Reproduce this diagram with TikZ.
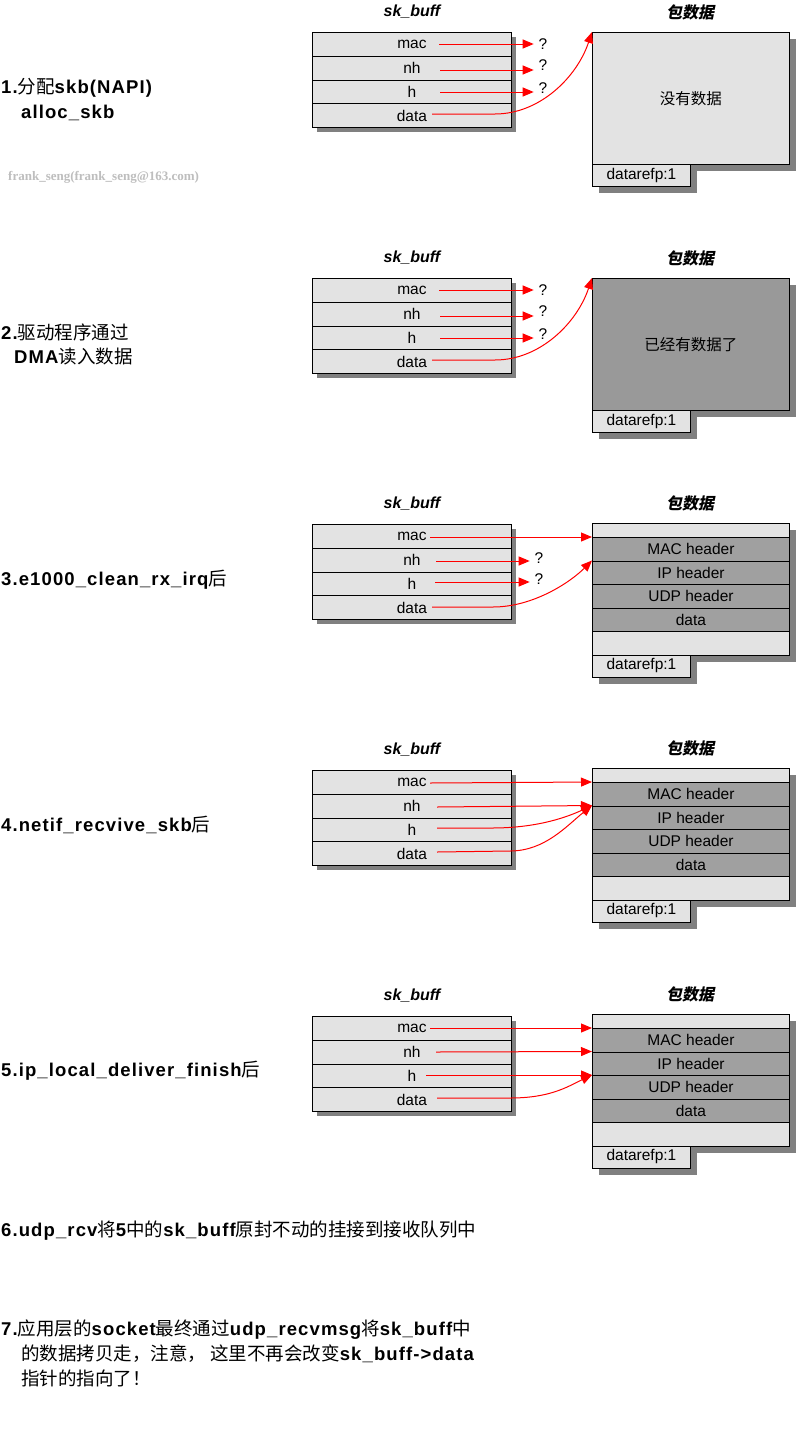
\documentclass[tikz,border=0pt]{standalone}
\usepackage{fontspec}
\setmainfont{Liberation Sans}
\newfontfamily\zh{Noto Sans CJK SC}
\newfontfamily\zhit[FakeSlant=0.2]{Noto Sans CJK SC}
\newfontfamily\wmfont{Liberation Serif}
\newfontfamily\lbfont[LetterSpace=6]{Liberation Sans}
\usetikzlibrary{arrows.meta}
\definecolor{lg}{HTML}{E3E3E3}
\definecolor{dg}{HTML}{A0A0A0}
\definecolor{dk}{HTML}{999999}
\definecolor{sh}{HTML}{808080}
\definecolor{wmc}{HTML}{BEBEBE}
\newcommand\LB[1]{{\lbfont\bfseries #1}}
\newcommand\ZH[1]{{\zh #1}}
\tikzset{
  box/.style={draw=black, line width=0.9pt, fill=lg, anchor=north west, inner sep=0pt,
              font=\fontsize{15.5}{16}\selectfont},
  row/.style={box, minimum width=199pt, minimum height=23.75pt},
  arr/.style={red, line width=1pt, -{Triangle[length=11pt,width=9pt]}},
  ttl/.style={inner sep=0pt, font=\fontsize{16}{16}\selectfont\bfseries\itshape},
  lab/.style={anchor=base west, inner sep=0pt, font=\fontsize{18.5}{20}\selectfont},
  qm/.style={inner sep=0pt, outer sep=5pt, font=\fontsize{15.5}{16}\selectfont},
}
\newcommand\skbox[2]{%
  \node[ttl] (#1st) at (412,#2-20) {sk\_buff};
  \fill[sh] (317,#2+5) rectangle (516,#2+100);
  \node[row] (#1mac) at (312,#2) {mac};
  \node[row] (#1nh) at (312,#2+23.75) {nh};
  \node[row] (#1h) at (312,#2+47.5) {h};
  \node[row] (#1data) at (312,#2+71.25) {data};
}
\newcommand\pktshadow[1]{%
  \fill[sh] (598.5,#1+6.5) rectangle (795.5,#1+138.5);
  \fill[sh] (598.5,#1+138) rectangle (696.5,#1+160.5);
}
\newcommand\pktplain[4]{%
  \node[ttl] (#1pt) at (690,#2-20) {{\zhit\bfseries 包数据}};
  \pktshadow{#2}
  \node[box, fill=#3, minimum width=197pt, minimum height=132pt] (#1pkt) at (592,#2) {\ZH{#4}};
  \node[box, minimum width=98pt, minimum height=22pt] (#1ref) at (592,#2+132) {datarefp:1};
}
\newcommand\pkthdr[2]{%
  \node[ttl] (#1pt) at (690,#2-20) {{\zhit\bfseries 包数据}};
  \pktshadow{#2}
  \node[box, minimum width=197pt, minimum height=14pt] (#1r0) at (592,#2) {};
  \node[box, fill=dg, minimum width=197pt, minimum height=23.5pt] (#1r1) at (592,#2+14) {MAC header};
  \node[box, fill=dg, minimum width=197pt, minimum height=23.5pt] (#1r2) at (592,#2+37.5) {IP header};
  \node[box, fill=dg, minimum width=197pt, minimum height=23.5pt] (#1r3) at (592,#2+61) {UDP header};
  \node[box, fill=dg, minimum width=197pt, minimum height=23.5pt] (#1r4) at (592,#2+84.5) {data};
  \node[box, minimum width=197pt, minimum height=23.5pt] (#1r5) at (592,#2+108) {};
  \node[box, minimum width=98pt, minimum height=22pt] (#1ref) at (592,#2+131.5) {datarefp:1};
}
\begin{document}
\begin{tikzpicture}[x=1pt,y=-1pt]
\fill[white] (0,0) rectangle (796,1443);
\useasboundingbox (0,0) rectangle (796,1443);

% ---------- left labels ----------
\node[lab] (l1a) at (1,93) {\LB{1.}\ZH{分配}\LB{skb(NAPI)}};
\node[lab] (l1b) at (21,118) {\LB{alloc\_skb}};
\node[anchor=base west, inner sep=0pt, text=wmc, font=\wmfont\bfseries\fontsize{13}{13}\selectfont] (wm) at (8,180) {frank\_seng(frank\_seng@163.com)};
\node[lab] (l2a) at (1,339) {\LB{2.}\ZH{驱动程序通过}};
\node[lab] (l2b) at (14,363) {\LB{DMA}\ZH{读入数据}};
\node[lab] (l3) at (1,585) {\LB{3.e1000\_clean\_rx\_irq}\ZH{后}};
\node[lab] (l4) at (1,831) {\LB{4.netif\_recvive\_skb}\ZH{后}};
\node[lab] (l5) at (1,1076) {\LB{5.ip\_local\_deliver\_finish}\ZH{后}};
\node[lab] (l6) at (1,1236) {\LB{6.udp\_rcv}\ZH{将}\LB{5}\ZH{中的}\LB{sk\_buff}\ZH{原封不动的挂接到接收队列中}};
\node[lab] (l7a) at (1,1335) {\LB{7.}\ZH{应用层的}\LB{socket}\ZH{最终通过}\LB{udp\_recvmsg}\ZH{将}\LB{sk\_buff}\ZH{中}};
\node[lab] (l7b) at (21,1360) {\ZH{的数据拷贝走，注意， 这里不再会改变}\LB{sk\_buff->data}};
\node[lab] (l7c) at (21,1385) {\ZH{指针的指向了！}};

% ---------- section 1 ----------
\skbox{s1}{32}
\pktplain{s1}{32}{lg}{没有数据}
\node[qm] (s1q1) at (543,44) {?};
\node[qm] (s1q2) at (543,65) {?};
\node[qm] (s1q3) at (543,88) {?};
\coordinate (s1a1) at (439,44);
\coordinate (s1a2) at (440,70);
\coordinate (s1a3) at (440,92);
\coordinate (s1a4) at (432,114);
\draw[arr] (s1a1) -- (s1a1 -| s1q1.west);
\draw[arr] (s1a2) -- (s1a2 -| s1q2.west);
\draw[arr] (s1a3) -- (s1a3 -| s1q3.west);
\draw[arr] (s1a4) -- ++(63,0) .. controls +(45,0) and +(-15,45) .. (s1pkt.north west);

% ---------- section 2 ----------
\skbox{s2}{278}
\pktplain{s2}{278}{dk}{已经有数据了}
\node[qm] (s2q1) at (543,290) {?};
\node[qm] (s2q2) at (543,311) {?};
\node[qm] (s2q3) at (543,334) {?};
\coordinate (s2a1) at (439,290);
\coordinate (s2a2) at (440,316);
\coordinate (s2a3) at (440,338);
\coordinate (s2a4) at (432,360);
\draw[arr] (s2a1) -- (s2a1 -| s2q1.west);
\draw[arr] (s2a2) -- (s2a2 -| s2q2.west);
\draw[arr] (s2a3) -- (s2a3 -| s2q3.west);
\draw[arr] (s2a4) -- ++(63,0) .. controls +(45,0) and +(-15,45) .. (s2pkt.north west);

% ---------- section 3 ----------
\skbox{s3}{524}
\pkthdr{s3}{523}
\node[qm] (s3q1) at (539,558) {?};
\node[qm] (s3q2) at (539,579) {?};
\coordinate (s3a1) at (430,537);
\coordinate (s3a2) at (436,561);
\coordinate (s3a3) at (435,582);
\coordinate (s3a4) at (432,607);
\draw[arr] (s3a1) -- (s3r1.north west);
\draw[arr] (s3a2) -- (s3a2 -| s3q1.west);
\draw[arr] (s3a3) -- (s3a3 -| s3q2.west);
\draw[arr] (s3a4) -- ++(61,0) .. controls +(40,0) and +(-22,22) .. (s3r2.north west);

% ---------- section 4 ----------
\skbox{s4}{770}
\pkthdr{s4}{768}
\coordinate (s4a1) at (430,783);
\coordinate (s4a2) at (437,807);
\coordinate (s4a3) at (437,828);
\coordinate (s4a4) at (437,852);
\draw[arr] (s4a1) -- (s4r1.north west);
\draw[arr] (s4a2) -- (s4r2.north west);
\draw[arr] (s4a3) -- ++(55,0) .. controls +(40,0) and +(-30,14) .. (s4r2.north west);
\draw[arr] (s4a4) -- ++(73,-1) .. controls +(35,0) and +(-25,20) .. (s4r2.north west);

% ---------- section 5 ----------
\skbox{s5}{1016}
\pkthdr{s5}{1014}
\coordinate (s5a1) at (430,1028);
\coordinate (s5a2) at (436,1052);
\coordinate (s5a3) at (426,1075);
\coordinate (s5a4) at (437,1098);
\draw[arr] (s5a1) -- (s5r1.north west);
\draw[arr] (s5a2) -- (s5r2.north west);
\draw[arr] (s5a3) -- (s5r3.north west);
\draw[arr] (s5a4) -- ++(73,0) .. controls +(40,0) and +(-25,12) .. (s5r3.north west);
\end{tikzpicture}
\end{document}
